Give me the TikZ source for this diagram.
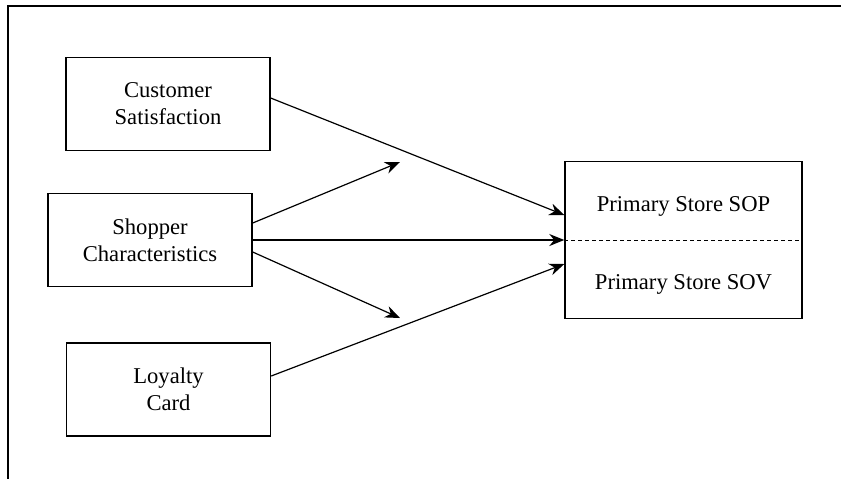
\documentclass[tikz,border=0pt]{standalone}
\usepackage{fontspec}
\setmainfont{Liberation Serif}
\usepackage{tikz}
\usetikzlibrary{arrows.meta}

\begin{document}
\begin{tikzpicture}[x=0.5pt, y=-0.5pt, >={Stealth[length=7.5pt, width=6pt]},
	every node/.style={font=\fontsize{11.3}{13.5}\selectfont},
	factor/.style={draw, line width=0.7pt, align=center, inner sep=0pt, minimum width=102pt, minimum height=46.5pt},
	link/.style={->, line width=0.6pt}]
	\useasboundingbox (0,0) rectangle (841,479);
	\draw[line width=0.8pt] (841,6) -- (8,6) -- (8,479);
	\node[factor] (cust) at (168,104) {Customer\\ Satisfaction};
	\node[factor] (shop) at (150,240) {Shopper\\ Characteristics};
	\node[factor] (loyal) at (168.5,389.5) {Loyalty\\ Card};
	\node[factor, minimum width=118.5pt, minimum height=78.5pt] (prim) at (683.5,240) {};
	\draw[dashed, line width=0.4pt, dash pattern=on 2pt off 1.5pt] (prim.west) -- (prim.east);
	\node (sop) at (683.5,206) {Primary Store SOP};
	\node (sov) at (683.5,284) {Primary Store SOV};
	\coordinate (modUp) at (400,162);
	\coordinate (modDown) at (400,318);
	\draw[link] ([yshift=3pt]cust.east) -- ([yshift=12.5pt]prim.west);
	\draw[link] (shop.east) -- (shop.east -| prim.west);
	\draw[link] ([yshift=6.75pt]loyal.east) -- ([yshift=-12pt]prim.west);
	\draw[link] ([yshift=8.5pt]shop.east) -- (modUp);
	\draw[link] ([yshift=-6pt]shop.east) -- (modDown);
\end{tikzpicture}
\end{document}
